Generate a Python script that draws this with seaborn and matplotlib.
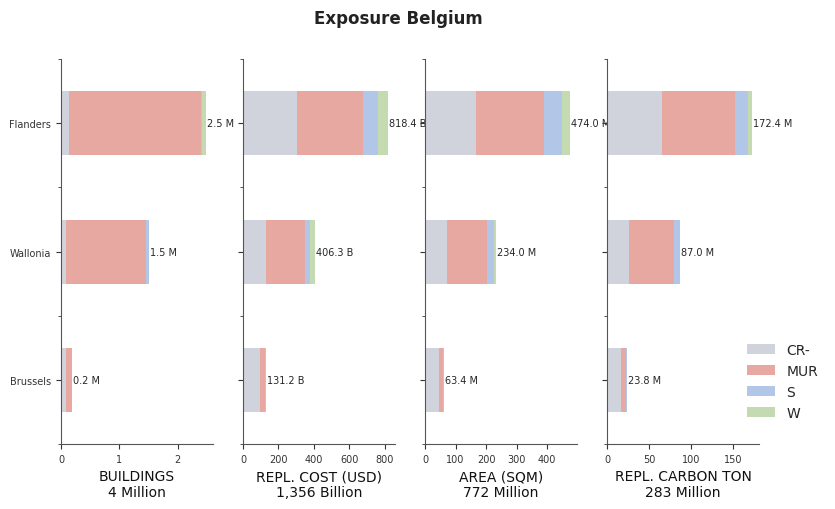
import numpy as np
import pandas as pd
import seaborn as sns
import matplotlib.pyplot as plt
from matplotlib.ticker import MultipleLocator

sns.set_style('ticks')

regions = ['Flanders', 'Wallonia', 'Brussels']
classes = ['CR-', 'MUR', 'S', 'W']
colors = ['#d0d3db', '#e7a8a2', '#b2c6e7', '#c4dab0']

# values per region (Flanders, Wallonia, Brussels), per construction class
buildings = {'CR-': [0.13, 0.085, 0.085], 'MUR': [2.27, 1.38, 0.10],
             'S': [0.02, 0.035, 0.005], 'W': [0.06, 0.005, 0.002]}
repl_cost = {'CR-': [308, 129, 95], 'MUR': [370, 224, 32],
             'S': [85, 27, 2.5], 'W': [55.4, 26.3, 1.7]}
area = {'CR-': [167, 71.6, 46], 'MUR': [224, 132, 14],
        'S': [59, 21, 3], 'W': [24, 9.4, 0.4]}
carbon = {'CR-': [65.4, 26.7, 16.5], 'MUR': [87.3, 52.6, 6.5],
          'S': [15.5, 7.2, 0.7], 'W': [4.2, 0.5, 0.1]}

metrics = [buildings, repl_cost, area, carbon]
units = ['M', 'B', 'M', 'M']
xlabels = ['BUILDINGS\n4 Million', 'REPL. COST (USD)\n1,356 Billion',
           'AREA (SQM)\n772 Million', 'REPL. CARBON TON\n283 Million']
tick_steps = [1, 200, 100, 50]

fig, axes = plt.subplots(1, 4, figsize=(8.35, 5.1), dpi=100)
fig.subplots_adjust(left=0.073, right=0.909, bottom=0.1275, top=0.882, wspace=0.197)

for i, ax in enumerate(axes):
    df = pd.DataFrame(metrics[i], index=regions)[classes]
    cum = df.cumsum(axis=1)
    # draw cumulative totals back to front so the bars look stacked
    for cls, col in reversed(list(zip(classes, colors))):
        sns.barplot(x=cum[cls].values, y=regions, color=col, width=0.5,
                    saturation=1, orient='h', ax=ax, linewidth=0,
                    label=cls if i == 0 else None)
    totals = cum[classes[-1]]
    for j, tot in enumerate(totals):
        ax.text(tot + totals.max() * 0.006, j, f'{tot:.1f} {units[i]}',
                va='center', ha='left', fontsize=7, color='#262626')
    ax.set_xlim(0, totals.max() * 1.05)
    ax.set_ylim(2.5, -0.5)
    ax.xaxis.set_major_locator(MultipleLocator(tick_steps[i]))
    ax.yaxis.set_minor_locator(MultipleLocator(1, offset=0.5))
    ax.tick_params(axis='both', labelsize=7, colors='#333333', length=3.5)
    ax.tick_params(axis='y', which='minor', length=2.5, color='#333333')
    if i > 0:
        ax.set_yticklabels([])
    ax.set_ylabel('')
    ax.set_xlabel(xlabels[i], fontsize=10, color='#111111')
    if ax.get_legend() is not None:
        ax.get_legend().remove()
    for s in ['left', 'bottom']:
        ax.spines[s].set_color('#555555')
    sns.despine(ax=ax)

handles, labels = axes[0].get_legend_handles_labels()
order = [labels.index(c) for c in classes]
fig.legend([handles[k] for k in order], classes, loc='upper left',
           bbox_to_anchor=(0.88, 0.35), frameon=False, fontsize=10)

fig.suptitle('Exposure Belgium', x=0.477, y=0.98, fontsize=12, fontweight='bold',
             color='#222222')

plt.savefig('out.png', dpi=100)
